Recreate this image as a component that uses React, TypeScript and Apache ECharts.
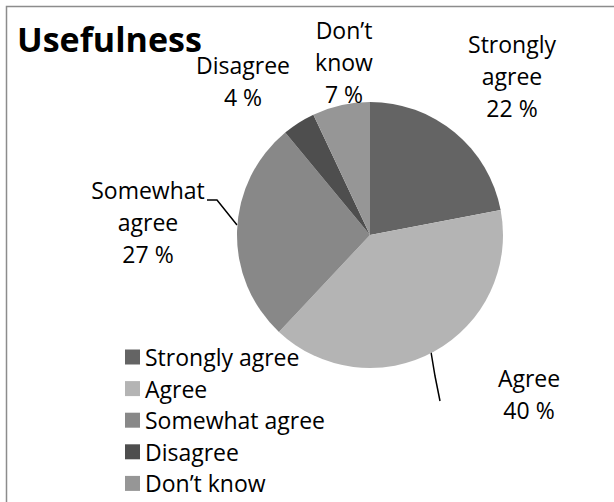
import React, { useEffect, useRef } from "react";
import * as echarts from "echarts";

const categories = ["Strongly agree", "Agree", "Somewhat agree", "Disagree", "Don’t know"];
const labelNames = ["Strongly\nagree", "Agree", "Somewhat\nagree", "Disagree", "Don’t\nknow"];
const values = [22, 40, 27, 4, 7];
const colors = ["#646464", "#b4b4b4", "#888888", "#4e4e4e", "#969696"];
const showLine = [false, true, true, false, false];
const titleText = "Usefulness";

// label placements (text block centres) and leader lines, layout only
const labelPos: Array<[number, number]> = [
  [512, 76],
  [529, 394],
  [148, 222],
  [243, 81],
  [344, 62],
];
const leaderLines: Array<number[][] | null> = [
  null,
  [[440, 401], [435, 376], [431, 352]],
  [[207, 200], [217, 200], [237, 225]],
  null,
  null,
];

const FONT = "'Open Sans', 'Noto Sans', sans-serif";

export default function App() {
  const ref = useRef<HTMLDivElement>(null);
  useEffect(() => {
    if (!ref.current) return;
    const chart = echarts.init(ref.current, undefined, { renderer: "svg" });
    chart.setOption({
      animation: false,
      backgroundColor: "#ffffff",
      title: {
        text: titleText,
        left: 17,
        top: 22,
        padding: 0,
        textStyle: { fontFamily: FONT, fontWeight: "bold", fontSize: 34, color: "#000", lineHeight: 34 },
      },
      legend: {
        orient: "vertical",
        left: 125,
        top: 345.5,
        padding: 0,
        itemWidth: 15,
        itemHeight: 15,
        itemGap: 8.6,
        icon: "rect",
        data: categories,
        textStyle: { fontFamily: FONT, fontSize: 23, color: "#000", lineHeight: 23 },
      },
      graphic: [
        {
          type: "rect",
          shape: { x: 6.5, y: 6.5, width: 700, height: 600 },
          style: { fill: "none", stroke: "#8c8c8c", lineWidth: 1.5 },
          silent: true,
        },
      ],
      series: [
        {
          type: "pie",
          center: [370, 235],
          radius: 133,
          startAngle: 90,
          clockwise: true,
          avoidLabelOverlap: false,
          itemStyle: { borderWidth: 0 },
          label: {
            show: true,
            position: "outside",
            fontFamily: FONT,
            fontSize: 23,
            lineHeight: 32,
            color: "#000",
            align: "center",
            formatter: (p: any) => `${labelNames[p.dataIndex]}\n${p.value} %`,
          },
          labelLine: { show: true, length: 10, length2: 10, lineStyle: { color: "#000", width: 1.5 } },
          labelLayout: (p: any) => {
            const i = p.dataIndex;
            const o: any = { x: labelPos[i][0], y: labelPos[i][1], align: "center", verticalAlign: "middle" };
            if (leaderLines[i]) o.labelLinePoints = leaderLines[i];
            return o;
          },
          data: categories.map((c, i) => ({
            name: c,
            value: values[i],
            itemStyle: { color: colors[i] },
            labelLine: { show: showLine[i] },
          })),
        },
      ],
    });
    return () => chart.dispose();
  }, []);
  return (
    <div
      ref={ref}
      style={{ position: "fixed", left: 0, top: 0, width: 614, height: 502, background: "#fff" }}
    />
  );
}
